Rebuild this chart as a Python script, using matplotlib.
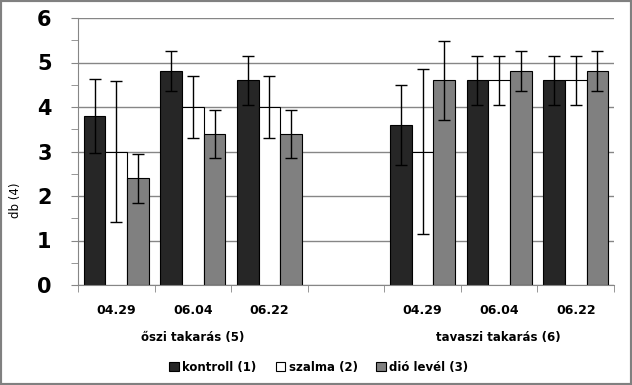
import numpy as np
import matplotlib.pyplot as plt
from matplotlib.patches import Rectangle

# adatok
datumok = ['04.29', '06.04', '06.22', '', '04.29', '06.04', '06.22']
csoportok = ['őszi takarás (5)', 'tavaszi takarás (6)']
sorozatok = ['kontroll (1)', 'szalma (2)', 'dió levél (3)']

kontroll = [3.8, 4.8, 4.6, np.nan, 3.6, 4.6, 4.6]
kontroll_hiba = [0.83, 0.45, 0.55, 0, 0.9, 0.55, 0.55]
szalma = [3.0, 4.0, 4.0, np.nan, 3.0, 4.6, 4.6]
szalma_hiba = [1.58, 0.7, 0.7, 0, 1.86, 0.55, 0.55]
dio = [2.4, 3.4, 3.4, np.nan, 4.6, 4.8, 4.8]
dio_hiba = [0.55, 0.54, 0.54, 0, 0.89, 0.45, 0.45]

szinek = ['#262626', '#ffffff', '#808080']

fig = plt.figure(figsize=(6.32, 3.85), dpi=100)
ax = fig.add_axes([78/632, 1-285/385, (614-78)/632, (285-18)/385])

x = np.arange(len(datumok))
w = 0.283
for i, (ertek, hiba) in enumerate([(kontroll, kontroll_hiba), (szalma, szalma_hiba), (dio, dio_hiba)]):
    ax.bar(x + (i-1)*w, ertek, w, color=szinek[i], edgecolor='black', linewidth=0.8,
           label=sorozatok[i], zorder=2)
    ax.errorbar(x + (i-1)*w, ertek, yerr=hiba, fmt='none', ecolor='black',
                elinewidth=1, capsize=4, capthick=1, zorder=3)

ax.set_xlim(-0.5, 6.5)
ax.set_ylim(0, 6)
ax.set_yticks(range(0, 7))
ax.set_yticks(np.arange(0.5, 6, 1), minor=True)
ax.tick_params(axis='y', which='both', direction='out', length=5, color='#868686')
ax.tick_params(axis='y', which='major', labelsize=15, pad=14)
for t in ax.get_yticklabels():
    t.set_fontweight('bold')
ax.grid(axis='y', color='#868686', linewidth=1, zorder=0)

ax.set_xticks(x)
ax.set_xticklabels(datumok, fontsize=9, fontweight='bold')
ax.set_xticks(np.arange(-0.5, 7, 1), minor=True)
ax.tick_params(axis='x', which='major', length=0, pad=14)
ax.tick_params(axis='x', which='minor', length=5, direction='out', color='#868686')

for s in ['top', 'right']:
    ax.spines[s].set_visible(False)
for s in ['left', 'bottom']:
    ax.spines[s].set_color('#868686')

ax.set_ylabel('db (4)', fontsize=8.5)
ax.yaxis.set_label_coords(-0.105, (285-200)/267)

fig.text(193/632, 1-338/385, csoportok[0], ha='center', va='center', fontsize=8.5, fontweight='bold')
fig.text(498/632, 1-338/385, csoportok[1], ha='center', va='center', fontsize=8.5, fontweight='bold')

fig.legend(loc='center', bbox_to_anchor=(319/632, 1-367/385), ncol=3, frameon=False,
           prop={'size': 8.5, 'weight': 'bold'}, handlelength=0.8, handleheight=0.8,
           handletextpad=0.3, columnspacing=1.6)

fig.patches.append(Rectangle((0, 0), 1, 1, transform=fig.transFigure, fill=False,
                             edgecolor='#808080', linewidth=3))

fig.savefig('out.png', dpi=100)
